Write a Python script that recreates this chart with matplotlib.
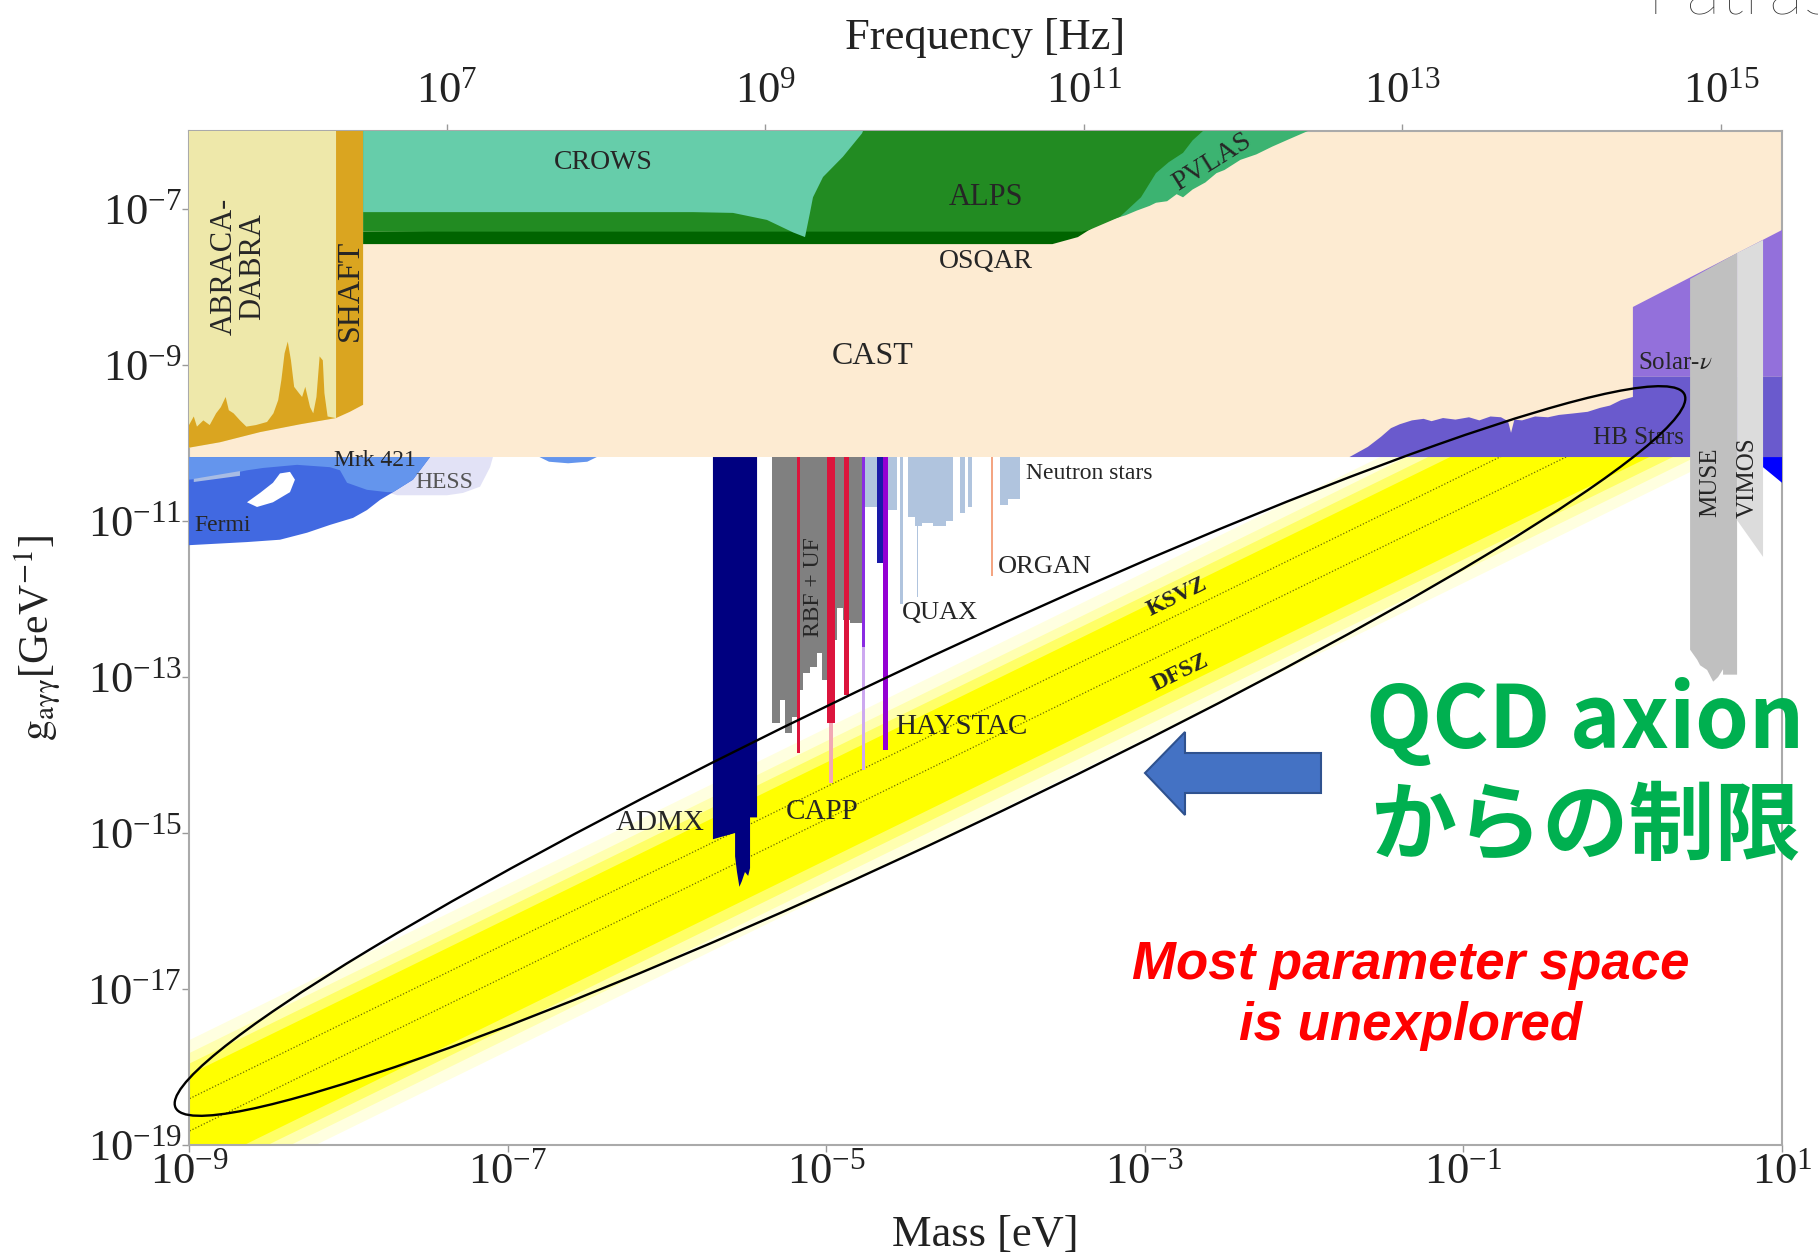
"""QCD axion photon coupling vs mass: existing limits, with slide annotations."""

import numpy as np
import matplotlib
matplotlib.use("Agg")
import matplotlib.pyplot as plt
from matplotlib.patches import Ellipse, Polygon
from matplotlib.ticker import NullLocator

plt.rcParams["font.family"] = ["Liberation Serif", "DejaVu Serif"]
plt.rcParams["mathtext.fontset"] = "stix"

HZ_PER_EV = 2.418e14

# ---- axis ranges / ticks ----
mass_range = [1e-9, 1e1]
g_range = [1e-19, 1e-6]
mass_ticks = [1e-9, 1e-7, 1e-5, 1e-3, 1e-1, 1e1]
g_ticks = [1e-19, 1e-17, 1e-15, 1e-13, 1e-11, 1e-9, 1e-7]
freq_ticks = [1e7, 1e9, 1e11, 1e13, 1e15]
g_cast = 6.6e-11
LOG_TOP = -6.0

# ---- QCD axion band: g = c * m  (GeV^-1, m in eV) ----
band_upper = [2.2e-9, 1.5e-9, 1.1e-9, 8e-10]
band_lower = [1.6e-11, 2.3e-11, 3.2e-11, 4.5e-11]
band_colors = ["#FFFFE0", "#FFFFB0", "#FFFF66", "#FFFF00"]
ksvz_c = 3.9e-10
dfsz_c = 1.5e-10

# ---- boundaries, stored as log10(mass/eV), log10(g/GeV^-1) ----
abra_floor_logm = [-9.0, -8.805, -8.554, -8.303, -8.077]
abra_floor_logg = [-10.06, -9.99, -9.86, -9.76, -9.68]
abra_data_logm = [-9.00, -8.97, -8.95, -8.91, -8.87, -8.83, -8.80, -8.77, -8.75, -8.72,
                  -8.68, -8.64, -8.58, -8.51, -8.47, -8.44, -8.42, -8.40, -8.38, -8.36,
                  -8.34, -8.31, -8.29, -8.27, -8.24, -8.22, -8.20, -8.18, -8.16, -8.15,
                  -8.13, -8.08]
abra_data_logg = [-9.77, -9.66, -9.79, -9.71, -9.77, -9.62, -9.54, -9.41, -9.58, -9.62,
                  -9.71, -9.79, -9.77, -9.73, -9.62, -9.45, -9.19, -8.85, -8.70, -8.94,
                  -9.28, -9.36, -9.41, -9.28, -9.54, -9.62, -9.41, -8.89, -8.94, -9.36,
                  -9.66, -9.68]
shaft_logm = [-8.077, -7.99, -7.907]
shaft_floor_logg = [-9.68, -9.60, -9.51]

crows_logm = [-7.907, -4.769, -4.775, -4.895, -5.020, -5.083, -5.102, -5.133, -5.208,
              -5.372, -5.585, -5.836, -7.907]
crows_logg = [-6.0, -6.0, -6.03, -6.33, -6.59, -6.85, -7.05, -7.36, -7.30, -7.14,
              -7.05, -7.04, -7.04]
alps_logm = [-7.907, -2.635, -2.70, -2.760, -2.85, -2.930, -3.024, -3.156, -3.350, -3.40, -7.907]
alps_logg = [-6.0, -6.0, -6.12, -6.28, -6.40, -6.54, -6.85, -7.10, -7.27, -7.29, -7.29]
osqar_logm = [-7.907, -3.30, -3.32, -3.42, -3.58, -7.907]
osqar_logg = [-7.29, -7.20, -7.23, -7.36, -7.45, -7.45]
pvlas_logm = [-2.70, -1.976, -2.10, -2.20, -2.30, -2.40, -2.50, -2.55, -2.62, -2.70, -2.76,
              -2.80, -2.86, -2.93, -2.97, -3.05, -3.12, -3.20, -3.32, -3.40]
pvlas_logg = [-6.0, -6.0, -6.11, -6.20, -6.30, -6.37, -6.50, -6.54, -6.66, -6.75, -6.85,
              -6.81, -6.90, -6.92, -6.96, -7.02, -7.08, -7.13, -7.23, -7.29]

hb_logm = [-1.715, -1.60, -1.517, -1.455, -1.40, -1.323, -1.25, -1.20, -1.128, -1.05,
           -0.965, -0.90, -0.83, -0.764, -0.72, -0.701, -0.68, -0.632, -0.55, -0.469,
           -0.40, -0.306, -0.22, -0.143, -0.08, -0.011, 0.064, 0.064, 1.0, 1.0]
hb_logg = [-10.18, -10.05, -9.92, -9.81, -9.76, -9.71, -9.69, -9.72, -9.68, -9.70,
           -9.67, -9.71, -9.66, -9.67, -9.72, -9.87, -9.70, -9.71, -9.66, -9.67,
           -9.64, -9.62, -9.60, -9.55, -9.52, -9.45, -9.41, -9.15, -9.15, -10.18]
solar_logm = [0.064, 0.064, 1.0, 1.0]
solar_logg = [-9.15, -8.256, -7.269, -9.15]
blue_logm = [0.881, 1.0, 1.0, 0.881]
blue_logg = [-10.18, -10.18, -10.51, -10.31]
muse_logm = [0.423, 0.718, 0.718, 0.630, 0.630, 0.599, 0.568, 0.530, 0.486, 0.468, 0.423]
muse_logg = [-7.897, -7.564, -12.97, -12.97, -12.90, -13.00, -13.06, -12.91, -12.85, -12.78, -12.65]
vimos_logm = [0.718, 0.881, 0.881, 0.718]
vimos_logg = [-7.564, -7.397, -11.46, -10.99]

fermi_logm = [-9.0, -7.487, -7.594, -7.719, -7.801, -7.883, -7.970, -8.115, -8.259, -8.429, -8.636, -9.0]
fermi_logg = [-10.18, -10.18, -10.47, -10.63, -10.73, -10.86, -10.96, -11.05, -11.15, -11.24, -11.27, -11.31]
mrk_logm = [-9.0, -7.487, -7.594, -7.719, -7.757, -7.883, -8.008, -8.052, -8.115, -8.322,
            -8.535, -8.636, -8.849, -9.0]
mrk_logg = [-10.18, -10.18, -10.47, -10.63, -10.63, -10.60, -10.51, -10.35, -10.31, -10.28,
            -10.32, -10.35, -10.44, -10.47]
hole_logm = [-8.636, -8.554, -8.473, -8.429, -8.366, -8.335, -8.366, -8.473, -8.573]
hole_logg = [-10.76, -10.64, -10.51, -10.39, -10.37, -10.47, -10.63, -10.76, -10.82]
streak_logm = [-8.97, -8.68, -8.68, -8.97]
streak_logg = [-10.46, -10.36, -10.42, -10.50]
hess_logm = [-7.801, -7.092, -7.110, -7.173, -7.280, -7.380, -7.694, -7.757]
hess_logg = [-10.18, -10.18, -10.31, -10.56, -10.64, -10.67, -10.67, -10.63]
blob_logm = [-6.80, -6.44, -6.50, -6.62, -6.74]
blob_logg = [-10.18, -10.18, -10.24, -10.26, -10.24]

admx_logm = [-5.711, -5.434, -5.434, -5.478, -5.478, -5.49, -5.51, -5.53, -5.545, -5.56,
             -5.572, -5.572, -5.711]
admx_logg = [-10.18, -10.18, -14.80, -14.80, -15.45, -15.55, -15.50, -15.62, -15.69, -15.50,
             -15.30, -15.00, -15.08]
rbf_edges_logm = [-5.342, -5.290, -5.259, -5.217, -5.185, -5.144, -5.102, -5.060, -5.028,
                  -4.997, -4.934, -4.893, -4.850, -4.777]
rbf_floor_logg = [-13.594, -13.295, -13.722, -13.509, -13.167, -12.953, -12.868, -12.696,
                  -13.038, -12.526, -12.119, -12.269, -12.312]
ns_lo = [-4.767, -4.610, -4.537, -4.484, -4.440, -4.432, -4.400, -4.330, -4.250, -4.160, -4.110, -3.909, -3.860]
ns_hi = [-4.683, -4.558, -4.516, -4.440, -4.400, -4.425, -4.330, -4.250, -4.202, -4.128, -4.087, -3.860, -3.783]
ns_floor = [-10.82, -10.86, -12.06, -10.95, -11.07, -11.97, -11.02, -11.07, -11.00, -10.90, -10.82, -10.80, -10.72]
capp_faint = (-4.985, -4.960, -14.36)
red_lo = [-5.185, -4.997, -4.886]
red_hi = [-5.164, -4.945, -4.857]
red_floor = [-13.98, -13.59, -13.23]
quax_faint = (-4.777, -4.756, -14.19)
quax_bar = (-4.777, -4.756, -12.61)
navy_bar = (-4.683, -4.642, -11.54)
haystac_bar = (-4.642, -4.610, -13.94)
organ_bar = (-3.967, -3.955, -11.71)


def m2f(m):
    return m * HZ_PER_EV


def f2m(f):
    return f / HZ_PER_EV


fig = plt.figure(figsize=(18.18, 12.54), dpi=100, facecolor="white")
ax = fig.add_axes([0.10396, 0.08692, 0.87624, 0.80861])
ax.set_xscale("log")
ax.set_yscale("log")
ax.set_xlim(mass_range)
ax.set_ylim(g_range)


def region(logm, logg, color, z=3):
    ax.fill(10.0 ** np.asarray(logm), 10.0 ** np.asarray(logg), color=color, lw=0, zorder=z)


def bar(lo, hi, floor, color, z=4):
    ax.fill_between([10.0 ** lo, 10.0 ** hi], 10.0 ** floor, g_cast, color=color, lw=0, zorder=z)


# QCD band + model lines
band_m = np.array([1e-10, 1e2])
for c_hi, c_lo, col in zip(band_upper, band_lower, band_colors):
    ax.fill_between(band_m, c_lo * band_m, c_hi * band_m, color=col, lw=0, zorder=1)
for c in (ksvz_c, dfsz_c):
    ax.plot(band_m, c * band_m, ls=(0, (1, 1.5)), color="#6b6b00", lw=0.9, zorder=1.5)

# CAST
ax.fill_between(mass_range, g_cast, g_range[1], color="#FDEBD2", lw=0, zorder=2)

# ABRACADABRA / SHAFT
region([-9.0, -8.077] + abra_floor_logm[::-1], [LOG_TOP, LOG_TOP] + abra_floor_logg[::-1], "#EEE8AA")
region(abra_data_logm + abra_floor_logm[::-1], abra_data_logg + abra_floor_logg[::-1], "#DAA520")
region([-8.077, -7.907] + shaft_logm[::-1], [LOG_TOP, LOG_TOP] + shaft_floor_logg[::-1], "#DAA520")

# light shining through wall / birefringence
region(osqar_logm, osqar_logg, "#006400")
region(pvlas_logm, pvlas_logg, "#3CB371")
region(alps_logm, alps_logg, "#228B22")
region(crows_logm, crows_logg, "#66CDAA")

# astrophysics, high mass
region(solar_logm, solar_logg, "#9370DB")
region(hb_logm, hb_logg, "#6A5ACD")
region(blue_logm, blue_logg, "#0000FF")
region(muse_logm, muse_logg, "#C0C0C0")
region(vimos_logm, vimos_logg, "#DCDCDC")

# astrophysics, low mass
region(hess_logm, hess_logg, "#E2E2F6")
region(fermi_logm, fermi_logg, "#4169E1")
region(mrk_logm, mrk_logg, "#6495ED")
region(streak_logm, streak_logg, "#A8BCE4")
region(hole_logm, hole_logg, "white")
region(blob_logm, blob_logg, "#6495ED")

# haloscopes
for lo, hi, fl in zip(ns_lo, ns_hi, ns_floor):
    bar(lo, hi, fl, "#B0C4DE")
bar(*organ_bar, "#F4A582")
ax.stairs(10.0 ** np.array(rbf_floor_logg), 10.0 ** np.array(rbf_edges_logm),
          baseline=g_cast, fill=True, color="#808080", lw=0, zorder=4)
bar(*capp_faint, "#F2A8B4")
for lo, hi, fl in zip(red_lo, red_hi, red_floor):
    bar(lo, hi, fl, "#DC143C")
bar(*quax_faint, "#CDA8F0")
bar(*quax_bar, "#8A2BE2")
bar(*navy_bar, "#1A1AA8")
bar(*haystac_bar, "#9400D3")
region(admx_logm, admx_logg, "#000080")

# ---- axes styling ----
ax.set_xticks(mass_ticks)
ax.set_yticks(g_ticks)
ax.xaxis.set_minor_locator(NullLocator())
ax.yaxis.set_minor_locator(NullLocator())
ax.tick_params(which="both", direction="out", length=5, width=1, color="#999999",
               labelsize=32, labelcolor="#222222", pad=0)
for sp in ax.spines.values():
    sp.set_color("#AAAAAA")
    sp.set_linewidth(1.5)

ax.set_xlabel("Mass [eV]", fontsize=32, color="#222222")
ax.xaxis.set_label_coords(0.5, -0.069)
ax.set_ylabel(r"$\mathrm{g_{a\gamma\gamma}}$[GeV$^{-1}$]", fontsize=30, color="#222222")
ax.yaxis.set_label_coords(-0.079, 0.5)

secax = ax.secondary_xaxis("top", functions=(m2f, f2m))
secax.set_xticks(freq_ticks)
secax.xaxis.set_minor_locator(NullLocator())
secax.tick_params(direction="out", length=5, width=1, color="#999999",
                  labelsize=32, labelcolor="#222222", pad=9)
secax.spines["top"].set_visible(False)
secax.set_xlabel("Frequency [Hz]", fontsize=32, color="#222222")
secax.xaxis.set_label_coords(0.5, 1.081, transform=ax.transAxes)

# ---- experiment labels ----
lab = dict(color="#262626", zorder=6)
ax.text(10**-6.40, 10**-6.40, "CROWS", fontsize=20, ha="center", va="center", **lab)
ax.text(10**-4.00, 10**-6.85, "ALPS", fontsize=22, ha="center", va="center", **lab)
ax.text(10**-2.58, 10**-6.40, "PVLAS", fontsize=20, ha="center", va="center", rotation=32, **lab)
ax.text(10**-4.00, 10**-7.67, "OSQAR", fontsize=20, ha="center", va="center", **lab)
ax.text(10**-4.71, 10**-8.885, "CAST", fontsize=23, ha="center", va="center", **lab)
ax.text(10**-8.69, 10**-7.74, "ABRACA-\nDABRA", fontsize=22, ha="center", va="center",
        rotation=90, linespacing=0.95, **lab)
ax.text(10**-7.99, 10**-8.04, "SHAFT", fontsize=23, ha="center", va="center", rotation=90, **lab)
ax.text(10**-7.83, 10**-10.23, "Mrk 421", fontsize=17, ha="center", va="center", **lab)
ax.text(10**-7.40, 10**-10.50, "HESS", fontsize=17, ha="center", va="center", color="#555555", zorder=6)
ax.text(10**-8.79, 10**-11.06, "Fermi", fontsize=17, ha="center", va="center", **lab)
ax.text(10**-3.746, 10**-10.385, "Neutron stars", fontsize=17, ha="left", va="center", **lab)
ax.text(10**-3.92, 10**-11.59, "ORGAN", fontsize=19, ha="left", va="center", **lab)
ax.text(10**-4.524, 10**-12.18, "QUAX", fontsize=19, ha="left", va="center", **lab)
ax.text(10**-4.568, 10**-13.64, "HAYSTAC", fontsize=21, ha="left", va="center", **lab)
ax.text(10**-5.252, 10**-14.73, "CAPP", fontsize=21, ha="left", va="center", **lab)
ax.text(10**-5.761, 10**-14.87, "ADMX", fontsize=21, ha="right", va="center", **lab)
ax.text(10**-5.077, 10**-11.85, "RBF + UF", fontsize=17, ha="center", va="center", rotation=90, **lab)
ax.text(10**0.096, 10**-8.974, r"Solar-$\nu$", fontsize=18, ha="left", va="center", **lab)
ax.text(10**-0.186, 10**-9.936, "HB Stars", fontsize=18, ha="left", va="center", **lab)
ax.text(10**0.548, 10**-10.5, "MUSE", fontsize=18, ha="center", va="center", rotation=90, **lab)
ax.text(10**0.787, 10**-10.44, "VIMOS", fontsize=18, ha="center", va="center", rotation=90, **lab)
ax.text(10**-2.80, 10**-11.97, "KSVZ", fontsize=17, fontweight="bold", ha="center", va="center",
        rotation=26, **lab)
ax.text(10**-2.78, 10**-12.94, "DFSZ", fontsize=17, fontweight="bold", ha="center", va="center",
        rotation=26, **lab)

# ---- slide overlay (pixel coordinates) ----
ov = fig.add_axes([0, 0, 1, 1], zorder=10)
ov.set_xlim(0, 1818)
ov.set_ylim(1254, 0)
ov.set_axis_off()

ov.add_patch(Ellipse((930, 751), 1669, 170, angle=-25.3, fill=False, ec="black", lw=1.7))
ov.add_patch(Polygon([(1145, 773), (1185, 732), (1185, 753), (1321, 753), (1321, 793),
                      (1185, 793), (1185, 815)], closed=True, fc="#4472C4", ec="#2F528F", lw=1.5))

green = dict(color="#00B050", fontsize=62, fontweight="bold",
             family=["Noto Sans CJK JP", "DejaVu Sans"], ha="left", va="center")
ov.text(1366, 723, "QCD axion", **green)
ov.text(1370, 828, "からの制限", **green)

red = dict(color="#FF0000", fontsize=38, fontweight="bold", fontstyle="italic",
           family=["Liberation Sans", "DejaVu Sans"], ha="center", va="center")
ov.text(1411, 965, "Most parameter space", **red)
ov.text(1411, 1026, "is unexplored", **red)

ov.text(1647, 13, "Patras", fontsize=52, fontweight="light", color="#333333",
        family=["Lato", "DejaVu Sans"], ha="left", va="baseline")

fig.savefig("out.png", dpi=100, facecolor="white")
plt.close(fig)
